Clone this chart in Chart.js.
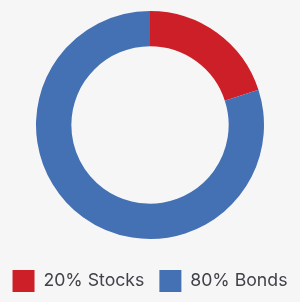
<!DOCTYPE html>
<html>
<head>
<meta charset="utf-8">
<script src="https://cdn.jsdelivr.net/npm/chart.js@4"></script>
<style>
  html, body { margin: 0; padding: 0; background: #f6f6f6; }
  #wrap { width: 300px; height: 302px; }
</style>
</head>
<body>
<div id="wrap"><canvas id="donutChart"></canvas></div>
<script>
const labels = ["20% Stocks", "80% Bonds"];
const values = [20, 80];
const colors = ["#cc1f27", "#4470b4"];

const CHART = document.getElementById("donutChart");
let donutChart = new Chart(CHART, {
  type: 'doughnut',
  data: {
    labels: labels,
    datasets: [{
      data: values,
      backgroundColor: colors,
      borderWidth: 0,
      radius: 114,
    }]
  },
  options: {
    responsive: true,
    maintainAspectRatio: false,
    animation: false,
    cutout: '69%',
    // negative side padding so both legend items fit on one row
    layout: { padding: { left: -10, right: -10, top: 0, bottom: 0 } },
    plugins: {
      tooltip: { enabled: false },
      legend: {
        position: 'bottom',
        title: {
          display: true,
          text: '',
          font: { size: 5, lineHeight: 1 },
          padding: 0,
        },
        labels: {
          boxWidth: 22,
          boxHeight: 22,
          padding: 15,
          color: '#3f4248',
          font: { family: 'Inter', size: 17.7 },
        }
      }
    }
  }
});
</script>
</body>
</html>
